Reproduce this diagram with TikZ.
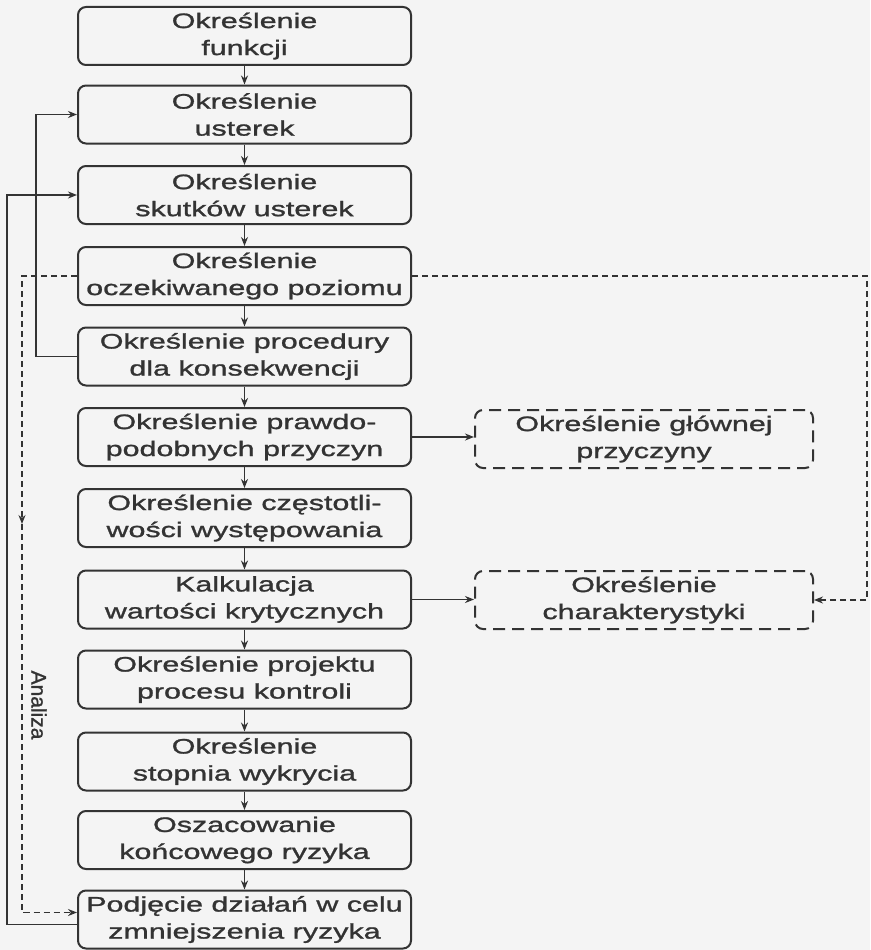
\documentclass[tikz,border=0pt]{standalone}
\usepackage{fontspec}
\setmainfont{Liberation Sans}[FakeStretch=1.45, FakeBold=1.2]
\newfontfamily\plainsans{Liberation Sans}[FakeBold=1.2]
\usetikzlibrary{arrows.meta}
\definecolor{ink}{HTML}{333333}
\definecolor{paper}{HTML}{F4F4F4}
\tikzset{
	krok/.style={draw=ink, line width=2pt, rounded corners=8pt, minimum width=333pt, minimum height=58pt, inner sep=0pt, align=center, text=ink, font=\fontsize{21}{27}\selectfont},
	opcja/.style={krok, dash pattern=on 12pt off 7pt, minimum width=338pt},
	strz/.style={draw=ink, line width=1.8pt, -{Stealth[length=9pt,width=7pt]}},
	kresk/.style={strz, dash pattern=on 6pt off 4pt}
}
\begin{document}
\begin{tikzpicture}[x=1pt, y=-1pt]
	\fill[paper] (0,0) rectangle (870,950);
	\useasboundingbox (0,0) rectangle (870,950);
	% glowna kolumna
	\node (f1) at (244.5,36) [krok] {Określenie\\funkcji};
	\node (f2) at (244.5,114.5) [krok] {Określenie\\usterek};
	\node (f3) at (244.5,195) [krok] {Określenie\\skutków usterek};
	\node (f4) at (244.5,276) [krok] {Określenie\\oczekiwanego poziomu};
	\node (f5) at (244.5,356.5) [krok] {Określenie procedury\\dla konsekwencji};
	\node (f6) at (244.5,437) [krok] {Określenie prawdo-\\podobnych przyczyn};
	\node (f7) at (244.5,518) [krok] {Określenie częstotli-\\wości występowania};
	\node (f8) at (244.5,599.5) [krok] {Kalkulacja\\wartości krytycznych};
	\node (f9) at (244.5,679.5) [krok] {Określenie projektu\\procesu kontroli};
	\node (f10) at (244.5,761.5) [krok] {Określenie\\stopnia wykrycia};
	\node (f11) at (244.5,840) [krok] {Oszacowanie\\końcowego ryzyka};
	\node (f12) at (244.5,919.5) [krok] {Podjęcie działań w celu\\zmniejszenia ryzyka};
	% boczne
	\node (przyczyna) at (644,439) [opcja] {Określenie głównej\\przyczyny};
	\node (charakt) at (644,600) [opcja] {Określenie\\charakterystyki};
	\foreach \i [evaluate=\i as \j using int(\i+1)] in {1,...,11}
		\draw[strz] (f\i.south) -- (f\j.north);
	% petle zwrotne
	\draw[strz] (f5.west) -- ++(-41,0) |- (f2.west);
	\draw[strz] ([yshift=-5pt]f12.west) -- ++(-70,0) |- (f3.west);
	\coordinate (srodek) at (22,524);
	\draw[kresk] (f4.west) -| (srodek);
	\draw[kresk] (srodek) |- ([yshift=7pt]f12.west);
	\node (analiza) at (39,705) [rotate=-90, text=ink, font=\plainsans\fontsize{21}{24}\selectfont] {Analiza};
	\draw[kresk] (f4.east) -- (867,276) |- (charakt.east);
	\draw[strz] (f6.east) -- (f6.east -| przyczyna.west);
	\draw[strz] (f8.east) -- (f8.east -| charakt.west);
\end{tikzpicture}
\end{document}
